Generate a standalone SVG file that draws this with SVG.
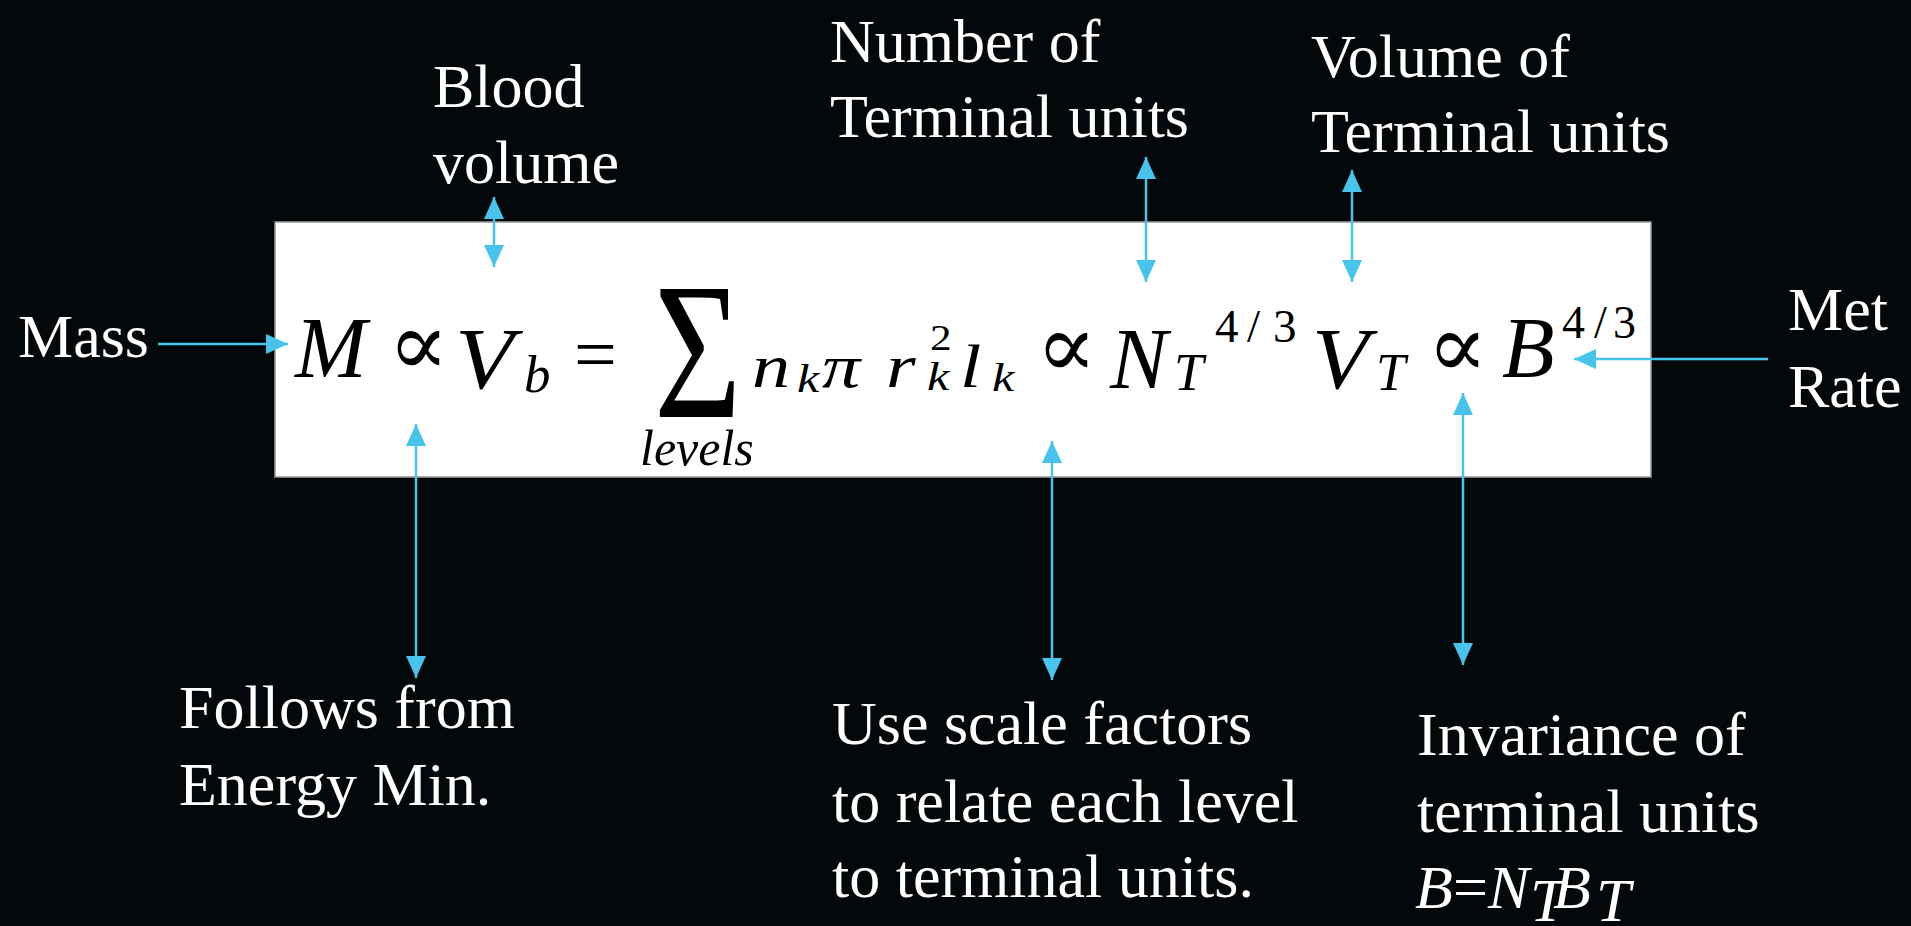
<svg xmlns="http://www.w3.org/2000/svg" width="1911" height="926" viewBox="0 0 1911 926">
  <style>
    .lbl { font-family: 'Liberation Serif', 'Times New Roman', serif; font-size: 62px; fill: #ffffff; }
    .lbli { font-family: 'Liberation Serif', 'Times New Roman', serif; font-size: 62px; font-style: italic; fill: #ffffff; }
    .eq { font-family: 'Liberation Serif', 'Times New Roman', serif; font-style: italic; fill: #000000; }
    .up { font-family: 'Liberation Serif', 'Times New Roman', serif; font-style: normal; fill: #000000; }
    .prop { font-family: 'DejaVu Serif', 'DejaVu Sans', serif; font-style: normal; fill: #000000; font-size: 90px; }
    .conn { stroke: #48C4EC; stroke-width: 2.5; fill: none; }
  </style>
  <defs>
    <marker id="ah" markerUnits="userSpaceOnUse" markerWidth="22" markerHeight="20" refX="22" refY="10" orient="auto-start-reverse" viewBox="0 0 22 20">
      <path d="M0,0 L22,10 L0,20 z" fill="#48C4EC"/>
    </marker>
  </defs>
  <rect x="0" y="0" width="1911" height="926" fill="#04080a"/>

  <g id="node-equation">
    <rect x="275" y="222" width="1376" height="255" fill="#ffffff" stroke="#9a9a9a" stroke-width="1.5"/>
    <text class="eq" x="295" y="377" font-size="86">M</text>
    <text class="prop" x="388" y="375">∝</text>
    <text class="eq" transform="translate(455,388) scale(1.12,1)" font-size="86">V</text>
    <text class="eq" x="524" y="392" font-size="53">b</text>
    <text class="up" x="574" y="380" font-size="76">=</text>
    <text class="up" transform="translate(654,417) scale(0.77,1)" font-size="195">Σ</text>
    <text class="eq" x="640" y="465" font-size="50">levels</text>
    <text class="eq" transform="translate(752,387) scale(1.25,1)" font-size="61">n</text>
    <text class="eq" transform="translate(797,392) scale(1.25,1)" font-size="40">k</text>
    <text class="eq" transform="translate(822,387) scale(1.25,1)" font-size="61">π</text>
    <text class="eq" transform="translate(886,387) scale(1.25,1)" font-size="61">r</text>
    <text class="up" transform="translate(930,350) scale(1.2,1)" font-size="36">2</text>
    <text class="eq" transform="translate(927,390) scale(1.25,1)" font-size="40">k</text>
    <text class="eq" transform="translate(960,387) scale(1.25,1)" font-size="61">l</text>
    <text class="eq" transform="translate(992,391) scale(1.25,1)" font-size="40">k</text>
    <text class="prop" x="1036" y="377">∝</text>
    <text class="eq" x="1110" y="388" font-size="86">N</text>
    <text class="eq" x="1174" y="390" font-size="53">T</text>
    <text class="up" x="1215" y="342" font-size="47">4</text>
    <text class="up" x="1247" y="342" font-size="47">/</text>
    <text class="up" x="1273" y="342" font-size="47">3</text>
    <text class="eq" transform="translate(1312,388) scale(1.08,1)" font-size="86">V</text>
    <text class="eq" x="1376" y="390" font-size="53">T</text>
    <text class="prop" x="1427" y="377">∝</text>
    <text class="eq" x="1502" y="377" font-size="86">B</text>
    <text class="up" x="1562" y="338" font-size="46">4</text>
    <text class="up" x="1594" y="338" font-size="46">/</text>
    <text class="up" x="1613" y="338" font-size="46">3</text>
  </g>

  <g id="node-mass">
    <text class="lbl" x="18" y="357">Mass</text>
  </g>
  <g id="node-blood-volume">
    <text class="lbl" x="433" y="107">Blood</text>
    <text class="lbl" x="433" y="183">volume</text>
  </g>
  <g id="node-number-terminal">
    <text class="lbl" x="830" y="62">Number of</text>
    <text class="lbl" x="830" y="137">Terminal units</text>
  </g>
  <g id="node-volume-terminal">
    <text class="lbl" x="1311" y="77">Volume of</text>
    <text class="lbl" x="1311" y="152">Terminal units</text>
  </g>
  <g id="node-met-rate">
    <text class="lbl" x="1788" y="330">Met</text>
    <text class="lbl" x="1788" y="407">Rate</text>
  </g>
  <g id="node-follows">
    <text class="lbl" x="179" y="728">Follows from</text>
    <text class="lbl" x="179" y="805">Energy Min.</text>
  </g>
  <g id="node-scale">
    <text class="lbl" x="832" y="744">Use scale factors</text>
    <text class="lbl" x="832" y="822">to relate each level</text>
    <text class="lbl" x="832" y="897">to terminal units.</text>
  </g>
  <g id="node-invariance">
    <text class="lbl" x="1417" y="755">Invariance of</text>
    <text class="lbl" x="1417" y="832">terminal units</text>
    <text class="lbli" x="1415" y="908">B</text>
    <text class="lbl" x="1453" y="908">=</text>
    <text class="lbli" x="1488" y="908">N</text>
    <text class="lbli" x="1530" y="921" font-size="40">T</text>
    <text class="lbli" x="1553" y="908">B</text>
    <text class="lbli" x="1596" y="921" font-size="40">T</text>
  </g>

  <g id="connectors">
    <line class="conn" x1="158" y1="344" x2="288" y2="344" marker-end="url(#ah)"/>
    <line class="conn" x1="494" y1="197" x2="494" y2="267" marker-start="url(#ah)" marker-end="url(#ah)"/>
    <line class="conn" x1="1146" y1="157" x2="1146" y2="282" marker-start="url(#ah)" marker-end="url(#ah)"/>
    <line class="conn" x1="1352" y1="170" x2="1352" y2="282" marker-start="url(#ah)" marker-end="url(#ah)"/>
    <line class="conn" x1="1768" y1="359" x2="1574" y2="359" marker-end="url(#ah)"/>
    <line class="conn" x1="416" y1="424" x2="416" y2="678" marker-start="url(#ah)" marker-end="url(#ah)"/>
    <line class="conn" x1="1052" y1="441" x2="1052" y2="680" marker-start="url(#ah)" marker-end="url(#ah)"/>
    <line class="conn" x1="1463" y1="393" x2="1463" y2="665" marker-start="url(#ah)" marker-end="url(#ah)"/>
  </g>
</svg>
